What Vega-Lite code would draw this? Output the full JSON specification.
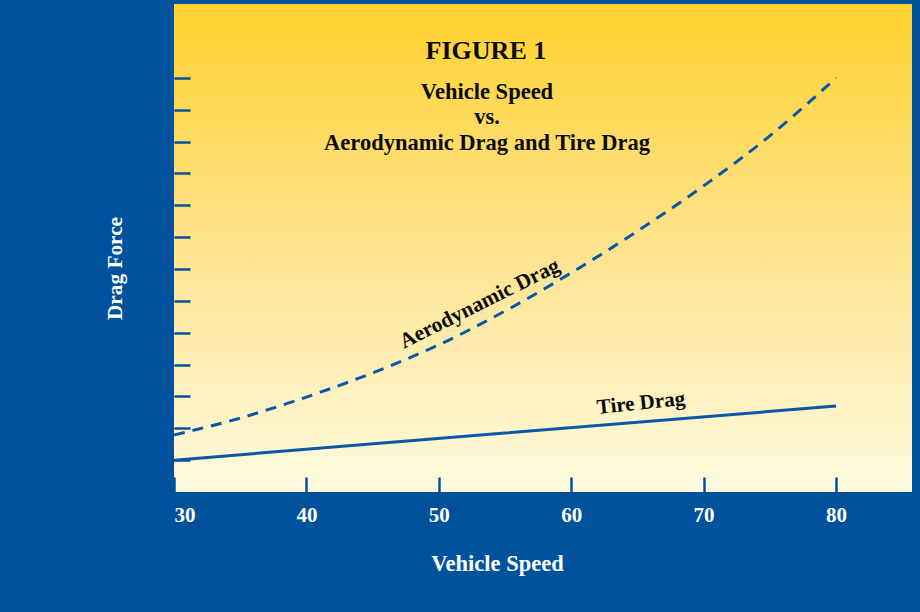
{
  "$schema": "https://vega.github.io/schema/vega-lite/v6.json",
  "width": 738,
  "height": 488,
  "autosize": {"type": "none"},
  "padding": {"left": 174, "top": 4, "right": 8, "bottom": 120},
  "background": "#00529C",
  "config": {
    "view": {
      "stroke": null,
      "fill": {
        "gradient": "linear",
        "x1": 0, "y1": 0, "x2": 0, "y2": 1,
        "stops": [
          {"offset": 0, "color": "#FFD22E"},
          {"offset": 0.5, "color": "#FEE38E"},
          {"offset": 1, "color": "#FFFBE0"}
        ]
      }
    },
    "font": "Liberation Serif"
  },
  "datasets": {
    "curves": [
      {"speed": 30, "force": 1.79, "series": "Aerodynamic Drag"},
      {"speed": 35, "force": 2.32, "series": "Aerodynamic Drag"},
      {"speed": 40, "force": 2.98, "series": "Aerodynamic Drag"},
      {"speed": 45, "force": 3.74, "series": "Aerodynamic Drag"},
      {"speed": 50, "force": 4.62, "series": "Aerodynamic Drag"},
      {"speed": 55, "force": 5.68, "series": "Aerodynamic Drag"},
      {"speed": 60, "force": 6.88, "series": "Aerodynamic Drag"},
      {"speed": 65, "force": 8.19, "series": "Aerodynamic Drag"},
      {"speed": 70, "force": 9.61, "series": "Aerodynamic Drag"},
      {"speed": 75, "force": 11.18, "series": "Aerodynamic Drag"},
      {"speed": 80, "force": 13.0, "series": "Aerodynamic Drag"},
      {"speed": 30, "force": 1.0, "series": "Tire Drag"},
      {"speed": 55, "force": 1.85, "series": "Tire Drag"},
      {"speed": 80, "force": 2.7, "series": "Tire Drag"}
    ],
    "heading": [
      {"text": "FIGURE 1", "speed": 53.56, "force": 13.85}
    ],
    "subheading": [
      {"text": "Vehicle Speed", "speed": 53.64, "force": 12.56},
      {"text": "vs.", "speed": 53.64, "force": 11.77},
      {"text": "Aerodynamic Drag and  Tire Drag", "speed": 53.64, "force": 10.96}
    ],
    "aeroLabel": [
      {"text": "Aerodynamic Drag", "speed": 53.1, "force": 5.9}
    ],
    "tireLabel": [
      {"text": "Tire Drag", "speed": 65.27, "force": 2.78}
    ]
  },
  "encoding": {
    "x": {
      "field": "speed",
      "type": "quantitative",
      "scale": {"domain": [30, 85.74], "nice": false, "zero": false},
      "axis": {
        "values": [30, 40, 50, 60, 70, 80],
        "title": "Vehicle Speed",
        "domain": false,
        "grid": false,
        "tickColor": "#00529C",
        "tickWidth": 2.5,
        "tickSize": -15,
        "labelColor": "#FFFFFF",
        "labelFont": "Liberation Serif",
        "labelFontSize": 21,
        "labelFontWeight": "bold",
        "labelPadding": 27,
        "labelFlush": true,
        "titleColor": "#FFFFFF",
        "titleFont": "Liberation Serif",
        "titleFontSize": 22.5,
        "titleFontWeight": "bold",
        "titleX": 323,
        "titleY": 71,
        "titleAlign": "center",
        "titleBaseline": "middle"
      }
    },
    "y": {
      "field": "force",
      "type": "quantitative",
      "scale": {"domain": [0, 15.32], "nice": false, "zero": false},
      "axis": {
        "values": [1, 2, 3, 4, 5, 6, 7, 8, 9, 10, 11, 12, 13],
        "labels": false,
        "title": "Drag Force",
        "domain": false,
        "grid": false,
        "tickColor": "#00529C",
        "tickWidth": 2.5,
        "tickSize": -16,
        "titleColor": "#FFFFFF",
        "titleFont": "Liberation Serif",
        "titleFontSize": 21.3,
        "titleFontWeight": "bold",
        "titleX": -59,
        "titleY": 264,
        "titleAngle": -90,
        "titleAlign": "center",
        "titleBaseline": "middle"
      }
    }
  },
  "layer": [
    {
      "data": {"name": "curves"},
      "transform": [{"filter": "datum.series === 'Aerodynamic Drag'"}],
      "mark": {"type": "line", "color": "#0A56A8", "strokeWidth": 3, "strokeDash": [11, 8], "interpolate": "monotone"}
    },
    {
      "data": {"name": "curves"},
      "transform": [{"filter": "datum.series === 'Tire Drag'"}],
      "mark": {"type": "line", "color": "#0A56A8", "strokeWidth": 3}
    },
    {
      "data": {"name": "heading"},
      "mark": {"type": "text", "font": "Liberation Serif", "fontSize": 26, "fontWeight": "bold", "color": "#0A0A0A", "align": "center", "baseline": "middle"},
      "encoding": {"text": {"field": "text"}}
    },
    {
      "data": {"name": "subheading"},
      "mark": {"type": "text", "font": "Liberation Serif", "fontSize": 22.5, "fontWeight": "bold", "color": "#0A0A0A", "align": "center", "baseline": "middle"},
      "encoding": {"text": {"field": "text"}}
    },
    {
      "data": {"name": "aeroLabel"},
      "mark": {"type": "text", "font": "Liberation Serif", "fontSize": 21.5, "fontWeight": "bold", "color": "#0A0A0A", "align": "center", "baseline": "middle", "angle": -26.6},
      "encoding": {"text": {"field": "text"}}
    },
    {
      "data": {"name": "tireLabel"},
      "mark": {"type": "text", "font": "Liberation Serif", "fontSize": 21, "fontWeight": "bold", "color": "#0A0A0A", "align": "center", "baseline": "middle", "angle": -6},
      "encoding": {"text": {"field": "text"}}
    }
  ]
}
